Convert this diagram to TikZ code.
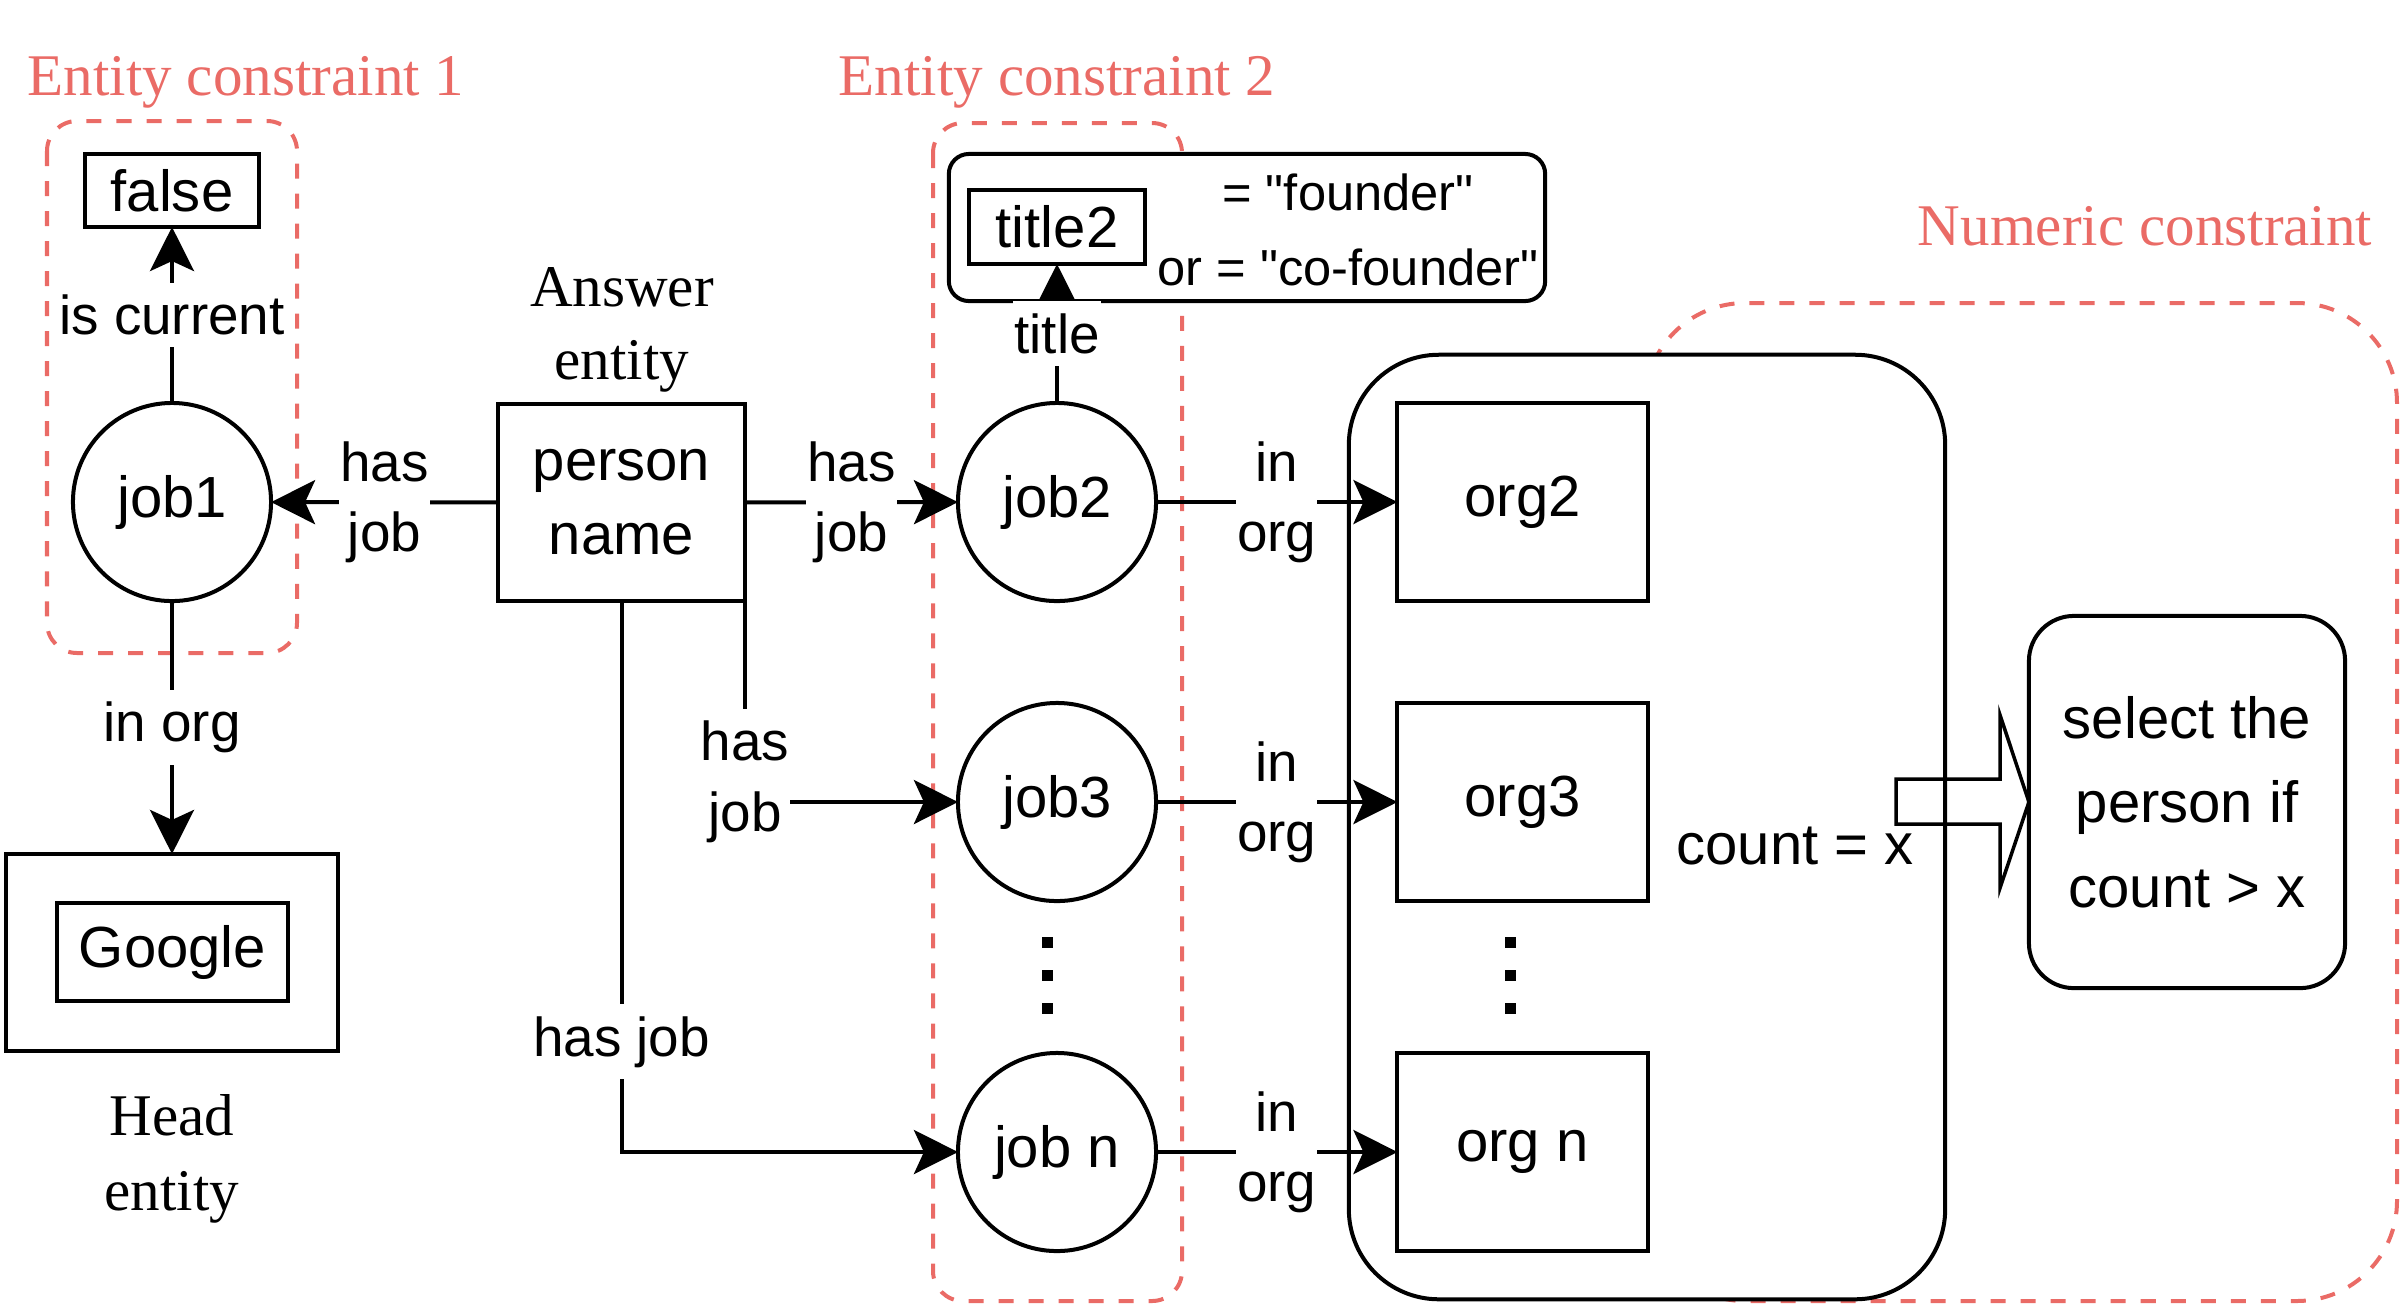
\documentclass[tikz,border=0pt]{standalone}
\usepackage{fontspec}
\setmainfont{Liberation Sans}
\newfontfamily\serifft{Liberation Serif}
\newfontfamily\rawsans{Liberation Sans}[Ligatures=TeXOff]
\usetikzlibrary{arrows.meta,calc}
\definecolor{cred}{HTML}{EA6B66}
\begin{document}
\begin{tikzpicture}[x=0.01cm,y=-0.01cm,
  every node/.style={inner sep=0pt, outer sep=0pt},
  lw/.style={line width=0.04cm},
  box/.style={draw, lw, rectangle, fill=white, align=center, font=\fontsize{16.5}{21}\selectfont},
  job/.style={draw, lw, circle, minimum size=1.98cm, fill=white, font=\fontsize{16.5}{21}\selectfont},
  orgbox/.style={box, minimum width=2.5cm, minimum height=1.97cm},
  arr/.style={lw, -{Stealth[length=0.44cm,width=0.44cm,inset=0.1cm]}},
  lbl/.style={fill=white, inner xsep=0.01cm, inner ysep=0.12cm, align=center, font=\fontsize{15.6}{20}\selectfont},
  redlbl/.style={text=cred, anchor=base, font=\serifft\fontsize{16.8}{21}\selectfont},
  captext/.style={align=center, font=\serifft\fontsize{16.8}{20.8}\selectfont},
  reddash/.style={draw=cred, lw, dash pattern=on 0.15cm off 0.15cm},
  dotsq/.style={fill=black, rectangle, minimum size=0.11cm, inner sep=0pt},
]
\useasboundingbox (0,0) rectangle (2400,1305);

% constraint regions
\draw[reddash, rounded corners=0.3cm] (47,121) rectangle (297,653);
\draw[reddash, rounded corners=0.3cm] (933,123) rectangle (1182,1301);
\draw[reddash, rounded corners=1cm] (1645,303) rectangle (2397,1301);

\node[redlbl] (ec1) at (246,95) {Entity constraint 1};
\node[redlbl] (ec2) at (1057,95) {Entity constraint 2};
\node[redlbl] (nc) at (2145,245) {Numeric constraint};

% title group
\node[draw, lw, fill=white, rounded corners=0.2cm, minimum width=5.96cm, minimum height=1.47cm] (tbox) at (1247,227.5) {};
\node[box, minimum width=1.75cm, minimum height=0.74cm] (title2) at (1057,227) {title2};
\node[align=center, font=\rawsans\fontsize{14.4}{21.3}\selectfont] (val) at (1348,230) {= "founder"\\or = "co-founder"};

% org group
\node[draw, lw, fill=white, rounded corners=0.9cm, minimum width=5.96cm, minimum height=9.44cm] (grp) at (1647,827) {};
\node[orgbox] (org2) at (1522.5,502) {org2};
\node[orgbox] (org3) at (1522.5,802) {org3};
\node[orgbox] (orgn) at (1522.5,1152) {org n};
\node[dotsq] (od1) at (1510,942) {};
\node[dotsq] (od2) at (1510,975) {};
\node[dotsq] (od3) at (1510,1008) {};
\node[anchor=base, font=\fontsize{16.5}{21}\selectfont] (cnt) at (1795,864) {count = x};

% selection
\node[box, rounded corners=0.45cm, minimum width=3.16cm, minimum height=3.72cm, font=\fontsize{16.5}{24}\selectfont] (sel) at (2187,802) {select the\\person if\\count > x};
\draw[line width=0.035cm] (1896,779) -- (2000,779) -- (2000,715) -- (sel.west) -- (2000,888) -- (2000,824) -- (1896,824) -- cycle;

% left part
\node[box, minimum width=1.73cm, minimum height=0.73cm] (false) at (172,190.5) {false};
\node[job] (job1) at (172,502) {job1};
\node[box, minimum width=2.47cm, minimum height=1.97cm] (person) at (621.5,502.5) {person\\name};
\node[captext] (ans) at (622,329.5) {Answer\\entity};
\node[draw, lw, minimum width=3.32cm, minimum height=1.97cm] (google) at (172,952.5) {};
\node[box, minimum width=2.31cm, minimum height=0.98cm] (goog) at (172.5,952) {Google};
\node[captext, font=\serifft\fontsize{16.8}{21.3}\selectfont] (head) at (172,1158.5) {Head\\entity};

% jobs
\node[job] (job2) at (1057,502) {job2};
\node[job] (job3) at (1057,802) {job3};
\node[job] (jobn) at (1057,1152) {job n};
\node[dotsq] (jd1) at (1047,942) {};
\node[dotsq] (jd2) at (1047,975) {};
\node[dotsq] (jd3) at (1047,1008) {};

% connectors
\draw[arr] (job1) -- node[lbl] {is current} (false);
\draw[arr] (person) -- node[lbl] {has\\job} (job1);
\draw[arr] (job1) -- node[lbl] {in org} (google);
\draw[arr] (person) -- node[lbl] {has\\job} (job2);
\draw[arr] (person.south east) |- node[lbl, pos=0.45] {has\\job} (job3);
\draw[arr] (person) |- node[lbl, pos=0.4] {has job} (jobn);
\draw[arr] (job2) -- node[lbl] {title} (title2);
\draw[arr] (job2) -- node[lbl] {in\\org} (org2);
\draw[arr] (job3) -- node[lbl] {in\\org} (org3);
\draw[arr] (jobn) -- node[lbl] {in\\org} (orgn);
\end{tikzpicture}
\end{document}
